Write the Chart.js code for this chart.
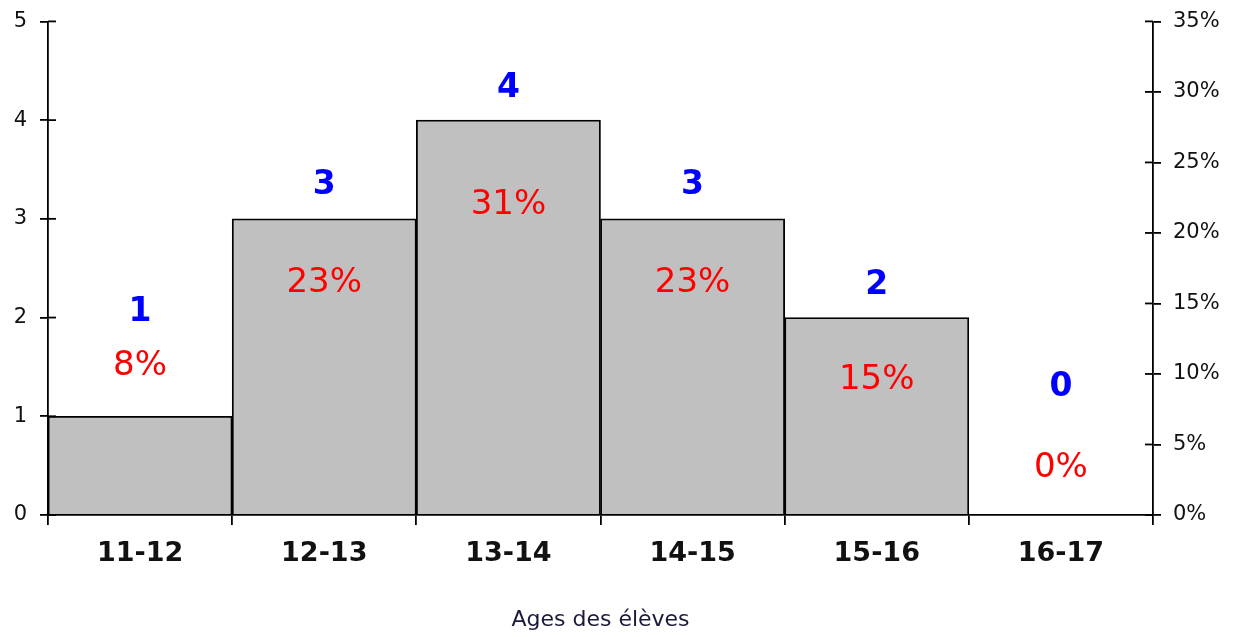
<!DOCTYPE html>
<html>
<head>
<meta charset="utf-8">
<script src="https://cdn.jsdelivr.net/npm/chart.js@4"></script>
<style>
  html, body { margin: 0; padding: 0; background: #fff; }
  #wrap { width: 1233px; height: 637px; }
</style>
</head>
<body>
<div id="wrap"><canvas id="histo" width="1233" height="637"></canvas></div>
<script>
// Données
const tranches = ["11-12", "12-13", "13-14", "14-15", "15-16", "16-17"];
const effectifs = [1, 3, 4, 3, 2, 0];
const pourcentages = [8, 23, 31, 23, 15, 0];
const ticksPct = [0, 5, 10, 15, 20, 25, 30, 35];

// Décalages des étiquettes (px, par rapport au haut de la barre)
const decalEffectif = [-104, -33, -32, -33, -32, -128];
const decalPct = [-50, 64, 85, 64, 63, -47];

const police = "'DejaVu Sans', 'Liberation Sans', Arial, sans-serif";

const etiquettes = {
    id: "etiquettes",
    afterDatasetsDraw(chart) {
        const ctx = chart.ctx;
        const meta = chart.getDatasetMeta(0);
        ctx.save();
        ctx.textAlign = "center";
        ctx.textBaseline = "middle";
        meta.data.forEach((bar, i) => {
            ctx.font = "bold 33px " + police;
            ctx.fillStyle = "#0000ff";
            ctx.fillText(String(effectifs[i]), bar.x, bar.y + decalEffectif[i]);
            ctx.font = "34px " + police;
            ctx.fillStyle = "#ff0000";
            ctx.fillText(pourcentages[i] + "%", bar.x, bar.y + decalPct[i]);
        });
        ctx.restore();
    }
};

// Petits traits de graduation côté intérieur des axes verticaux
const graduations = {
    id: "graduations",
    afterDraw(chart) {
        const ctx = chart.ctx;
        const y = chart.scales.y, y2 = chart.scales.y2;
        ctx.save();
        ctx.strokeStyle = "#000";
        ctx.lineWidth = 1.8;
        y.ticks.forEach(t => {
            const py = y.getPixelForValue(t.value);
            ctx.beginPath(); ctx.moveTo(y.right, py); ctx.lineTo(y.right + 8, py); ctx.stroke();
        });
        y2.ticks.forEach(t => {
            const py = y2.getPixelForValue(t.value);
            ctx.beginPath(); ctx.moveTo(y2.left - 8, py); ctx.lineTo(y2.left, py); ctx.stroke();
        });
        ctx.restore();
    }
};

new Chart(document.getElementById("histo"), {
    type: "bar",
    data: {
        labels: tranches,
        datasets: [{
            data: effectifs,
            backgroundColor: "#c0c0c0",
            borderColor: "#000",
            borderWidth: 1.8,
            categoryPercentage: 1,
            barPercentage: 1,
            yAxisID: "y"
        }]
    },
    options: {
        responsive: false,
        animation: false,
        layout: { padding: { top: 20, left: 0, right: 0, bottom: 0 } },
        plugins: { legend: { display: false }, tooltip: { enabled: false } },
        scales: {
            x: {
                grid: { drawOnChartArea: false, tickLength: 10, color: "#000", lineWidth: 1.8, offset: true },
                border: { color: "#000", width: 1.8 },
                ticks: { color: "#111", font: { family: police, size: 27, weight: "bold" }, padding: 13 },
                title: {
                    display: true,
                    text: "Ages des élèves",
                    color: "#1a1a3a",
                    font: { family: "'Comic Sans MS', 'DejaVu Sans', cursive", size: 22 },
                    padding: { top: 18, bottom: 4 }
                },
                afterFit(scale) { scale.height = 122; }
            },
            y: {
                position: "left",
                min: 0, max: 5,
                ticks: { stepSize: 1, color: "#111", font: { family: police, size: 21, lineHeight: 0.8 }, padding: 13 },
                grid: { drawOnChartArea: false, tickLength: 8, color: "#000", lineWidth: 1.8 },
                border: { color: "#000", width: 1.8 },
                afterFit(scale) { scale.width = 48; }
            },
            y2: {
                position: "right",
                min: 0, max: 35,
                afterBuildTicks(scale) { scale.ticks = ticksPct.map(v => ({ value: v })); },
                ticks: { color: "#111", font: { family: police, size: 21, lineHeight: 0.8 }, padding: 12, callback: v => v + "%" },
                grid: { drawOnChartArea: false, tickLength: 8, color: "#000", lineWidth: 1.8 },
                border: { color: "#000", width: 1.8 },
                afterFit(scale) { scale.width = 80; }
            }
        }
    },
    plugins: [etiquettes, graduations]
});
</script>
</body>
</html>
